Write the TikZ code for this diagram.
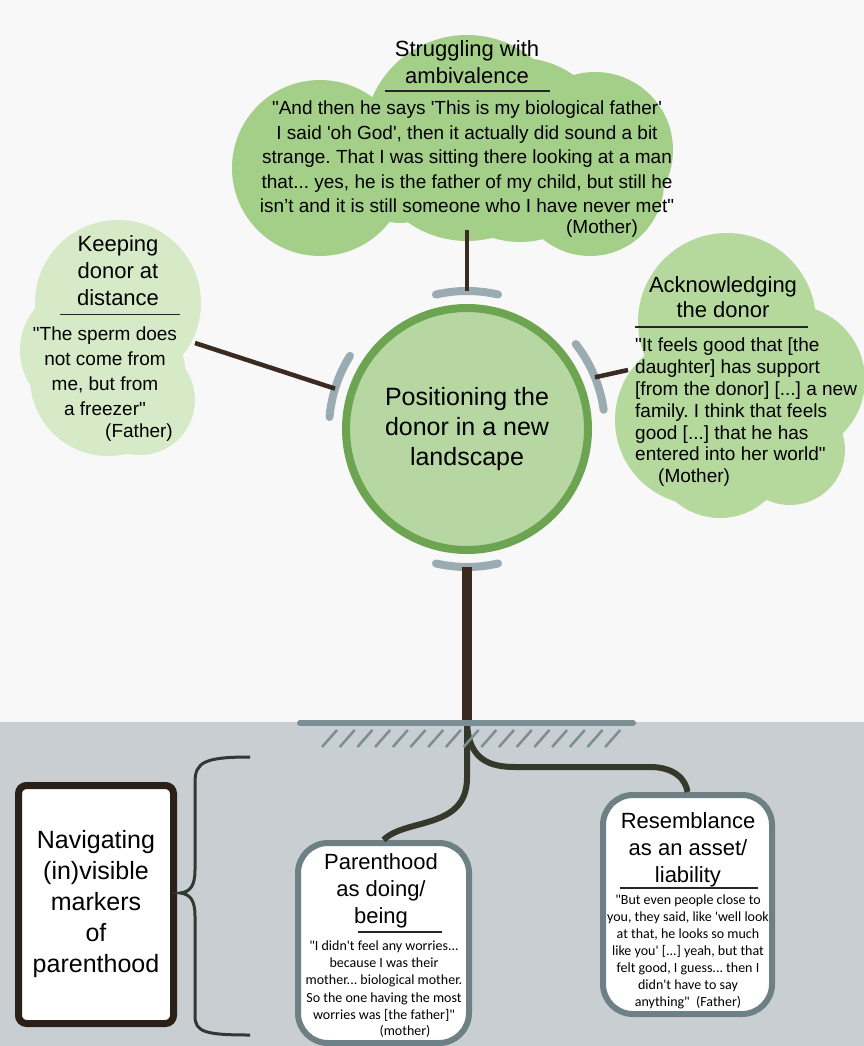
\documentclass[tikz,border=0pt]{standalone}
\usepackage{fontspec}
\setmainfont{Liberation Sans}
\newfontfamily\arialf{Liberation Sans}
\newfontfamily\calib{Carlito}
\definecolor{bgtop}{HTML}{F8F8F8}
\definecolor{groundc}{HTML}{C9CED3}
\definecolor{topgreen}{HTML}{A4CF88}
\definecolor{rightgreen}{HTML}{B5D89D}
\definecolor{leftgreen}{HTML}{D6EAC8}
\definecolor{circf}{HTML}{B6D7A1}
\definecolor{circb}{HTML}{6CA451}
\definecolor{arcc}{HTML}{9AABB1}
\definecolor{stemc}{HTML}{3B2A20}
\definecolor{rootc}{HTML}{36382B}
\definecolor{gline}{HTML}{7B8E93}
\definecolor{boxb}{HTML}{6C8086}
\definecolor{navb}{HTML}{2B2019}
\definecolor{bracec}{HTML}{2F3A33}
\begin{document}\arialf\frenchspacing
\begin{tikzpicture}[x=1pt,y=-1pt,
  title/.style={font=\arialf\fontsize{22}{27}\selectfont, align=center, inner sep=0pt},
  quote/.style={font=\arialf\fontsize{19}{24.5}\selectfont, align=center, inner sep=0pt},
  cquote/.style={font=\calib\fontsize{14}{17.1}\selectfont, align=center, inner sep=0pt},
  uline/.style={line width=1.3pt, black!85},
  stem/.style={draw=stemc, line width=4.5pt},
  arcS/.style={draw=arcc, line width=8pt, line cap=round},
  root/.style={draw=rootc, line width=6pt},
  hatch/.style={draw=gline, line width=2.5pt},
  tbox/.style={draw=boxb, line width=6pt, fill=white, rounded corners=30pt, inner sep=0pt},
]
\useasboundingbox (0,0) rectangle (864,1046);
\fill[bgtop] (0,0) rectangle (864,722);
\fill[groundc] (0,722) rectangle (864,1046);

% ---- clouds
\fill[topgreen] (467,138) circle (103) (320,168) circle (88) (400,175) circle (48)
  (520,150) circle (92) (595,150) circle (78) (590,182) circle (74);
\fill[leftgreen] (118,303) circle (83) (108,378) circle (78) (85,350) circle (65)
  (140,400) circle (55);
\fill[rightgreen] (727,322) circle (89) (790,380) circle (75) (700,420) circle (85)
  (720,450) circle (68) (790,450) circle (55);

\coordinate (cloudT) at (467,230);
\coordinate (cloudL) at (195,343);
\coordinate (cloudR) at (628,370);

% ---- central circle
\node[circle, minimum size=242pt, draw=circb, line width=8pt, fill=circf, inner sep=0pt,
  align=center, font=\arialf\fontsize{25}{30}\selectfont] (c) at (467,429)
  {Positioning the\\donor in a new\\landscape};

\draw[arcS] (c.center) ++(257:138) arc[start angle=257, end angle=283, radius=138];
\draw[arcS] (c.center) ++(77:138) arc[start angle=77, end angle=103, radius=138];
\draw[arcS] (c.center) ++(185:138) arc[start angle=185, end angle=212, radius=138];
\draw[arcS] (c.center) ++(322:138) arc[start angle=322, end angle=352, radius=138];
\path (c.center) ++(270:138) coordinate (arcT);
\path (c.center) ++(90:138) coordinate (arcB);
\path (c.center) ++(197:138) coordinate (arcL);
\path (c.center) ++(338:138) coordinate (arcR);

\draw[stem] (arcT) -- (cloudT);
\draw[stem] (arcL) -- (cloudL);
\draw[stem] (arcR) -- (cloudR);

% ---- top cloud text
\node[title] (tT) at (467,62) {Struggling with\\ambivalence};
\draw[uline] (385,91) coordinate (uTa) -- (550,91) coordinate (uTb);
\node[quote] (qT) at (467,157) {"And then he says 'This is my biological father'\\
I said 'oh God', then it actually did sound a bit\\
strange. That I was sitting there looking at a man\\
that... yes, he is the father of my child, but still he\\
isn’t and it is still someone who I have never met"};
\node[quote] (wT) at (602,229) {(Mother)};

% ---- left cloud text
\node[title] (tL) at (118,271) {Keeping\\donor at\\distance};
\draw[uline, line width=0.8pt] (60,314) coordinate (uLa) -- (180,314) coordinate (uLb);
\node[quote, font=\arialf\fontsize{19}{25}\selectfont] (qL) at (105,371) {"The sperm does\\not come from\\me, but from\\a freezer"};
\node[quote] (wL) at (139,433) {(Father)};

% ---- right cloud text
\node[title, font=\arialf\fontsize{22}{25}\selectfont] (tR) at (723,297) {Acknowledging\\the donor};
\draw[uline] (635,327) coordinate (uRa) -- (808,327) coordinate (uRb);
\node[quote, align=left, font=\arialf\fontsize{19}{21.8}\selectfont, anchor=north west] (qR) at (635,338)
  {"It feels good that [the\\daughter] has support\\{}[from the donor] [...] a new\\family. I think that feels\\good [...] that he has\\entered into her world"\\\hspace*{23pt}(Mother)};

% ---- underground
\draw[stem, line width=10pt] (arcB) -- (467,722) coordinate (gnd);

\node[tbox, minimum width=171pt, minimum height=200pt] (pbox) at (383.5,943) {};
\node[tbox, minimum width=169pt, minimum height=219pt] (rbox) at (687.5,904.5) {};
\node[draw=navb, line width=7pt, fill=white, rounded corners=8pt, inner sep=0pt,
  minimum width=155pt, minimum height=238pt, align=center,
  font=\arialf\fontsize{25}{31}\selectfont] (nav) at (96,904.5)
  {Navigating\\(in)visible\\markers\\of\\parenthood};

\draw[root] (gnd) -- (467,778) .. controls (467,830) and (405,818) .. (pbox.north);
\draw[root] (gnd) .. controls (468,760) and (490,767) .. (515,767) -- (650,767)
  .. controls (675,767) and (686,780) .. (rbox.north);

\foreach \i in {0,...,16} \draw[hatch] (322+17.7*\i,747) -- ++(15,-17);
\draw[draw=gline, line width=6pt, line cap=round] (300,723) coordinate (gl1) -- (633,723) coordinate (gl2);

% brace
\draw[draw=bracec, line width=3pt] (250,757) .. controls (205,757) and (195,762) .. (195,782)
  -- (195,870) .. controls (195,886) and (190,892) .. (180,893)
  .. controls (190,894) and (195,900) .. (195,916) -- (195,1016)
  .. controls (195,1032) and (205,1035) .. (250,1035);

% parenthood box text
\node[title] (tP) at (381,891) {Parenthood\\as doing/\\being};
\draw[uline] (358,932) coordinate (uPa) -- (442,932) coordinate (uPb);
\node[cquote] (qP) at (384,981) {"I didn't feel any worries...\\because I was their\\mother... biological mother.\\So the one having the most\\worries was [the father]"};
\node[cquote] (wP) at (405,1031) {(mother)};

% resemblance box text
\node[title] (tRs) at (688,850) {Resemblance\\as an asset/\\liability};
\draw[uline] (620,888) coordinate (uSa) -- (758,888) coordinate (uSb);
\node[cquote] (qS) at (688,952) {"But even people close to\\you, they said, like 'well look\\at that, he looks so much\\like you' [...] yeah, but that\\felt good, I guess... then I\\didn't have to say\\anything"\ \ (Father)};
\end{tikzpicture}
\end{document}
